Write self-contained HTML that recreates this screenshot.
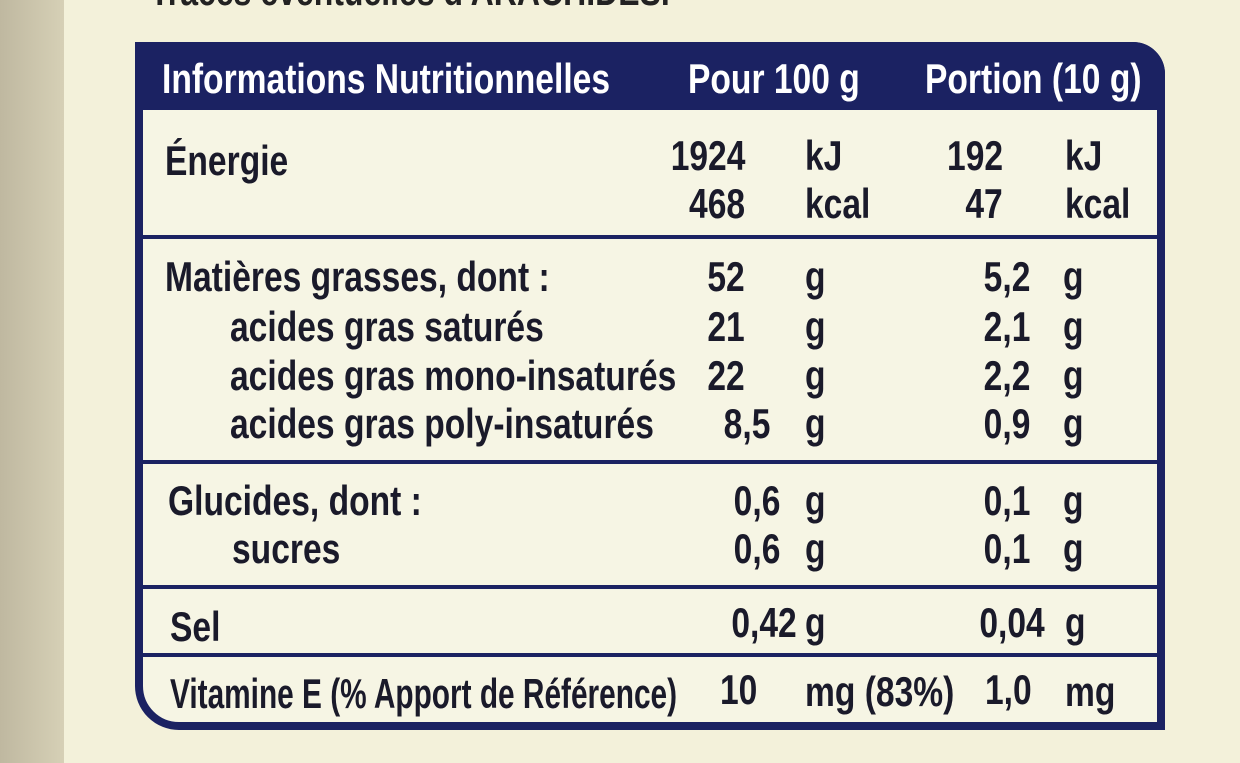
<!DOCTYPE html>
<html><head><meta charset="utf-8"><style>
html,body{margin:0;padding:0}
body{width:1240px;height:763px;position:relative;overflow:hidden;background:#f3f1da;font-family:"Liberation Sans Narrow","Liberation Sans",sans-serif;font-weight:bold}
.strip{position:absolute;left:0;top:0;width:64px;height:763px;background:linear-gradient(90deg,#bfb8a0,#d6d0b6)}
.box{position:absolute;left:135px;top:42px;width:1014px;height:672px;border:8px solid #1b2262;border-radius:0 32px 0 44px;background:#f6f5e4}
.hdr{position:absolute;left:135px;top:42px;width:1030px;height:66px;background:#1b2262;border-radius:0 32px 0 0}
.ln{position:absolute;left:140px;width:1020px;height:4px;background:#1b2262}
.t{position:absolute;font-size:42px;color:#1a1a2a;white-space:nowrap;line-height:1;transform:scaleX(0.8);transform-origin:left}
.r{transform-origin:right;text-align:right}
.w{color:#fff}
.top{position:absolute;left:150px;top:-30px;font-size:40px;color:#222;white-space:nowrap;transform:scaleX(0.8);transform-origin:left}
</style></head><body>
<div class="strip"></div>
<div class="top">Traces éventuelles d'ARACHIDES.</div>
<div class="box"></div>
<div class="hdr"></div>
<div class="ln" style="top:106px"></div>
<div class="ln" style="top:235px"></div>
<div class="ln" style="top:460px"></div>
<div class="ln" style="top:585px"></div>
<div class="ln" style="top:653px"></div>

<div class="t w" style="left:162px;top:58px">Informations Nutritionnelles</div>
<div class="t w" style="left:688px;top:58px">Pour 100 g</div>
<div class="t w" style="left:925px;top:58px">Portion (10 g)</div>

<div class="t" style="left:165px;top:140px">Énergie</div>
<div class="t r" style="right:495px;top:135px">1924</div>
<div class="t" style="left:805px;top:135px">kJ</div>
<div class="t r" style="right:495px;top:183px">468</div>
<div class="t" style="left:805px;top:183px">kcal</div>
<div class="t r" style="right:237px;top:135px">192</div>
<div class="t" style="left:1065px;top:135px">kJ</div>
<div class="t r" style="right:237px;top:183px">47</div>
<div class="t" style="left:1065px;top:183px">kcal</div>

<div class="t" style="left:165px;top:256px">Matières grasses, dont :</div>
<div class="t" style="left:230px;top:306px">acides gras saturés</div>
<div class="t" style="left:230px;top:355px">acides gras mono-insaturés</div>
<div class="t" style="left:230px;top:403px">acides gras poly-insaturés</div>
<div class="t r" style="right:495px;top:256px">52</div>
<div class="t r" style="right:495px;top:306px">21</div>
<div class="t r" style="right:495px;top:355px">22</div>
<div class="t r" style="right:470px;top:403px">8,5</div>
<div class="t" style="left:805px;top:256px">g</div>
<div class="t" style="left:805px;top:306px">g</div>
<div class="t" style="left:805px;top:355px">g</div>
<div class="t" style="left:805px;top:403px">g</div>
<div class="t r" style="right:210px;top:256px">5,2</div>
<div class="t r" style="right:210px;top:306px">2,1</div>
<div class="t r" style="right:210px;top:355px">2,2</div>
<div class="t r" style="right:210px;top:403px">0,9</div>
<div class="t" style="left:1063px;top:256px">g</div>
<div class="t" style="left:1063px;top:306px">g</div>
<div class="t" style="left:1063px;top:355px">g</div>
<div class="t" style="left:1063px;top:403px">g</div>

<div class="t" style="left:168px;top:480px">Glucides, dont :</div>
<div class="t" style="left:232px;top:528px">sucres</div>
<div class="t r" style="right:460px;top:480px">0,6</div>
<div class="t r" style="right:460px;top:528px">0,6</div>
<div class="t" style="left:805px;top:480px">g</div>
<div class="t" style="left:805px;top:528px">g</div>
<div class="t r" style="right:210px;top:480px">0,1</div>
<div class="t r" style="right:210px;top:528px">0,1</div>
<div class="t" style="left:1063px;top:480px">g</div>
<div class="t" style="left:1063px;top:528px">g</div>

<div class="t" style="left:170px;top:606px">Sel</div>
<div class="t r" style="right:443px;top:602px">0,42</div>
<div class="t" style="left:805px;top:602px">g</div>
<div class="t r" style="right:195px;top:602px">0,04</div>
<div class="t" style="left:1065px;top:602px">g</div>

<div class="t" style="left:170px;top:673px;transform:scaleX(0.71)">Vitamine E (% Apport de Référence)</div>
<div class="t" style="left:720px;top:669px">10</div>
<div class="t" style="left:805px;top:671px">mg (83%)</div>
<div class="t" style="left:985px;top:669px">1,0</div>
<div class="t" style="left:1065px;top:671px">mg</div>
</body></html>
